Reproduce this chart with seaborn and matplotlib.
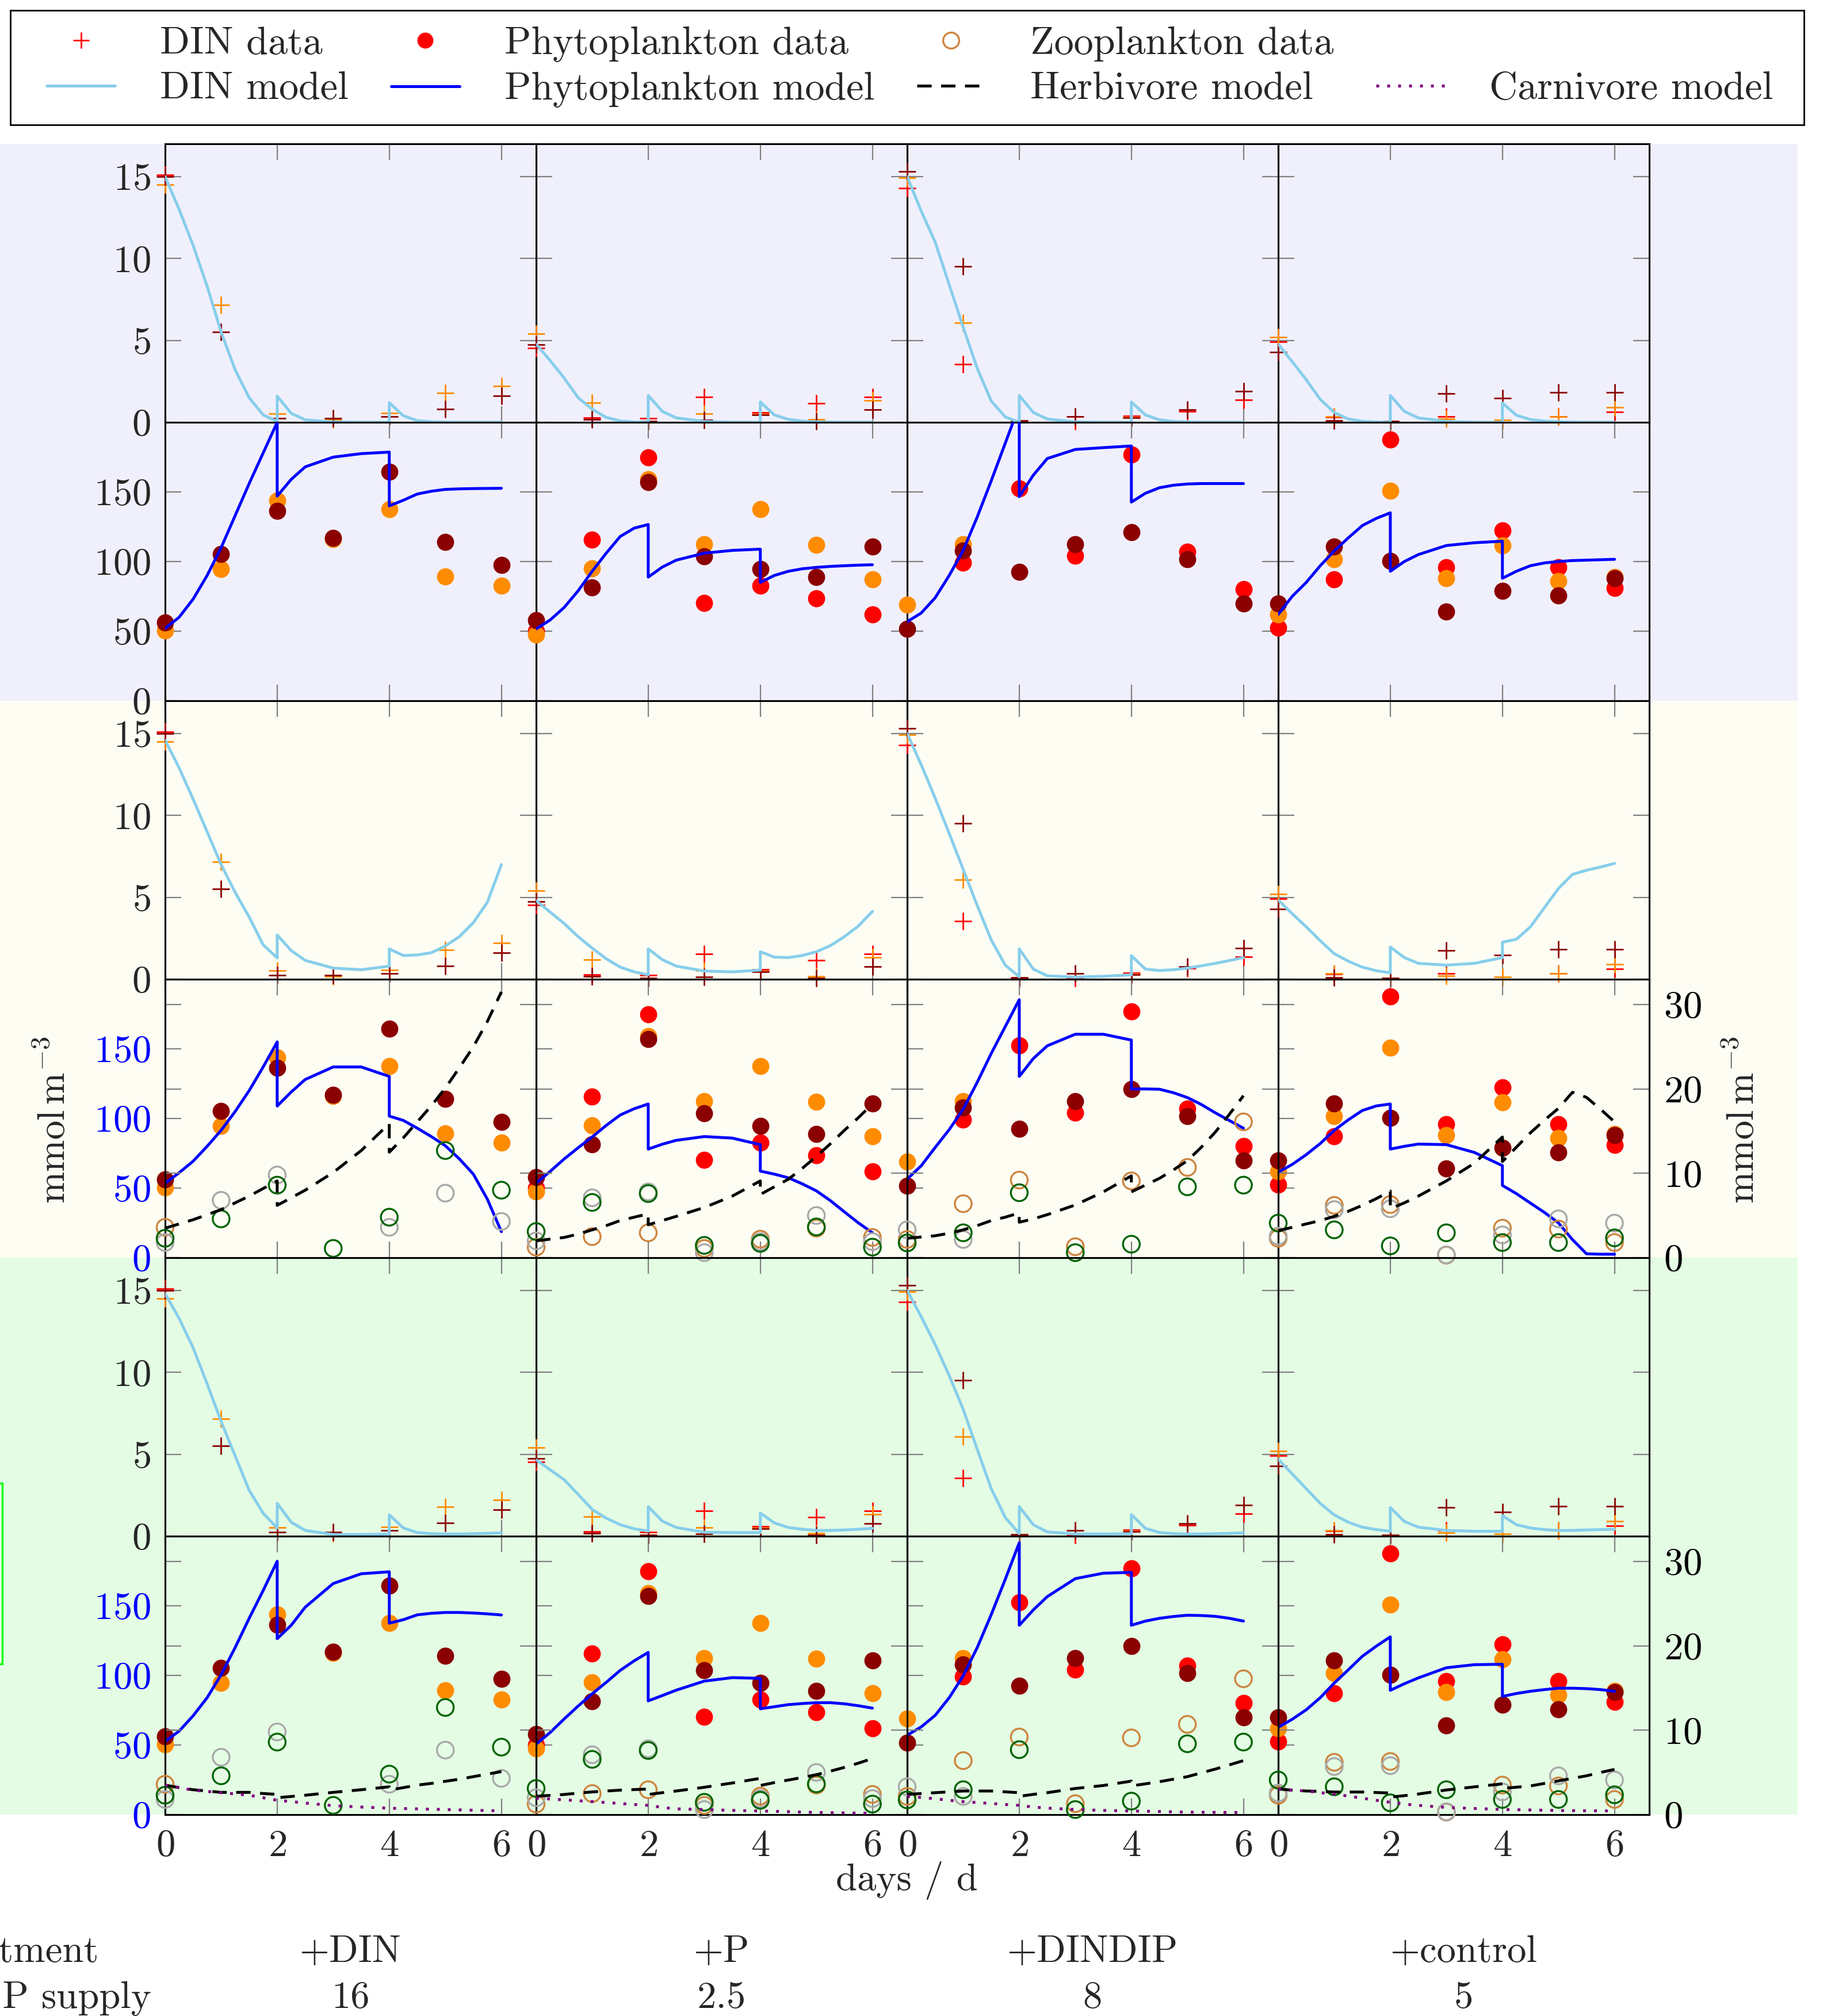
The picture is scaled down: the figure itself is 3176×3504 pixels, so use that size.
#!/usr/bin/env python
# coding: utf-8

# NP / NPZ / NPZZ model runs against the mesocosm data, 4 treatments

import numpy as np
import matplotlib
matplotlib.use('Agg')
import matplotlib.pyplot as plt
from matplotlib.lines import Line2D
from matplotlib.patches import Rectangle
import seaborn as sns

nan = np.nan

# Step 1: values
days = [0, 1, 2, 3, 4, 5, 6]
treatments = ['+DIN', '+P', '+DINDIP', '+control']
np_supply = ['16', '2.5', '8', '5']

# model output times, day 2 and day 4 twice (nutrient additions)
t_model = [0, 0.25, 0.5, 0.75, 1, 1.25, 1.5, 1.75, 2, 2, 2.25, 2.5, 3, 3.5,
           4, 4, 4.25, 4.5, 4.75, 5, 5.25, 5.5, 5.75, 6]

# DIN data (three replicates), one list per treatment
din_red = [[15.1, nan, nan, nan, nan, nan, nan],
           [4.52, 0.29, 0.25, 1.55, 0.61, 1.16, 1.55],
           [14.31, 3.54, 0.06, 0.06, 0.37, 0.67, 1.36],
           [4.9, 0.3, nan, 0.34, nan, 0.35, 0.64]]
din_orange = [[14.5, 7.15, 0.53, 0.18, 0.57, 1.8, 2.2],
              [5.41, 1.2, nan, 0.53, 0.5, 0.18, 1.35],
              [14.94, 6.08, 0.04, nan, 0.33, nan, nan],
              [5.21, 0.35, 0.08, 0.21, 0.15, 0.35, 0.93]]
din_darkred = [[15.0, 5.5, 0.23, 0.23, 0.34, 0.81, 1.6],
               [4.75, 0.19, 0.06, 0.15, 0.45, 0.07, 0.76],
               [15.32, 9.53, 0.09, 0.35, 0.29, 0.79, 1.89],
               [4.29, 0.09, 0.08, 1.75, 1.48, 1.82, 1.84]]

# phytoplankton data
phy_red = [[nan, nan, nan, nan, nan, nan, nan],
           [50, 115.9, 174.7, 70.3, 82.8, 73.7, 62],
           [nan, 99, 152.6, 104.2, 177, 107, 80.2],
           [52.3, 87.2, 187.8, 95.8, 122.4, 95.8, 81]]
phy_orange = [[50.3, 94.7, 143.7, 116, 137.8, 89.4, 82.5],
              [47.7, 95, 159, 112.2, 137.5, 112, 87.2],
              [69, 112.3, nan, nan, nan, nan, nan],
              [62, 101.8, 151, 88, 111.5, 86, 89]]
phy_darkred = [[56.1, 105.3, 136.2, 116.9, 164.3, 114, 97.4],
               [58, 81.5, 157, 103.6, 94.5, 88.8, 110.7],
               [51.6, 107.9, 92.7, 112.2, 121.2, 101.5, 69.7],
               [69.8, 110.7, 100.5, 64, 78.9, 75.5, 88]]

# zooplankton data (right axis)
zoo_peru = [[3.6, nan, nan, nan, nan, nan, nan],
            [1.25, 2.5, 2.95, 1.1, 2.2, 3.5, 2.4],
            [2.16, 6.4, 9.2, 1.3, 9.1, 10.7, 16.1],
            [2.3, 6.2, 6.3, 0.3, 3.5, 3.4, 1.8]]
zoo_gray = [[1.8, 6.8, 9.8, nan, 3.6, 7.65, 4.3],
            [2.0, 7.1, 7.8, 0.6, 1.9, 5.0, 1.9],
            [3.3, 2.16, nan, nan, nan, nan, nan],
            [2.56, 5.7, 5.8, 0.34, 2.7, 4.6, 4.1]]
zoo_green = [[2.3, 4.6, 8.6, 1.1, 4.8, 12.7, 8.0],
             [3.1, 6.55, 7.6, 1.46, 1.7, 3.65, 1.25],
             [1.75, 2.95, 7.7, 0.6, 1.6, 8.4, 8.6],
             [4.1, 3.3, 1.4, 2.95, 1.8, 1.8, 2.35]]

# DIN model, one list per treatment
din_np = [[15.0, 13.0, 10.8, 8.3, 5.5, 3.2, 1.5, 0.45, 0.05, 1.6, 0.55, 0.15, 0.02, 0.0, 0.0, 1.2, 0.4, 0.1, 0.03, 0.01, 0.0, 0.0, 0.0, 0.0],
          [4.77, 3.77, 2.7, 1.5, 0.8, 0.3, 0.08, 0.02, 0.0, 1.64, 0.67, 0.27, 0.05, 0.0, 0.0, 1.24, 0.45, 0.18, 0.07, 0.03, 0.01, 0.0, 0.0, 0.0],
          [15.0, 12.9, 11.0, 8.4, 5.8, 3.3, 1.3, 0.33, 0.0, 1.64, 0.6, 0.2, 0.02, 0.0, 0.0, 1.24, 0.45, 0.15, 0.05, 0.02, 0.0, 0.0, 0.0, 0.0],
          [4.77, 3.7, 2.6, 1.4, 0.6, 0.2, 0.06, 0.02, 0.0, 1.64, 0.67, 0.27, 0.05, 0.0, 0.0, 1.18, 0.43, 0.17, 0.07, 0.03, 0.01, 0.0, 0.0, 0.0]]
din_npz = [[14.6, 12.9, 11.0, 9.0, 7.0, 5.3, 3.8, 2.1, 1.3, 2.7, 1.75, 1.15, 0.68, 0.58, 0.8, 1.85, 1.45, 1.48, 1.62, 2.03, 2.6, 3.45, 4.7, 7.0],
           [4.8, 4.1, 3.4, 2.6, 1.9, 1.25, 0.74, 0.45, 0.27, 1.85, 1.2, 0.8, 0.5, 0.45, 0.56, 1.68, 1.35, 1.32, 1.45, 1.68, 2.05, 2.6, 3.25, 4.14],
           [15.0, 13.1, 11.05, 8.9, 6.7, 4.5, 2.4, 0.86, 0.15, 1.85, 0.62, 0.21, 0.13, 0.18, 0.27, 1.44, 0.62, 0.53, 0.58, 0.68, 0.82, 0.97, 1.14, 1.32],
           [4.84, 4.0, 3.2, 2.35, 1.56, 1.1, 0.74, 0.52, 0.39, 1.97, 1.32, 0.97, 0.86, 0.97, 1.32, 2.26, 2.44, 3.2, 4.37, 5.54, 6.4, 6.65, 6.85, 7.07]]
din_npzz = [[14.8, 13.3, 11.5, 9.3, 7.0, 4.9, 2.8, 1.4, 0.5, 2.0, 0.85, 0.35, 0.1, 0.1, 0.12, 1.3, 0.5, 0.22, 0.15, 0.13, 0.13, 0.15, 0.17, 0.2],
            [4.66, 4.05, 3.45, 2.55, 1.63, 1.1, 0.7, 0.45, 0.31, 1.8, 0.92, 0.53, 0.24, 0.22, 0.22, 1.41, 0.81, 0.53, 0.42, 0.35, 0.35, 0.38, 0.42, 0.48],
            [15.0, 13.4, 11.7, 9.8, 7.74, 5.3, 2.9, 1.14, 0.15, 1.8, 0.7, 0.26, 0.13, 0.13, 0.15, 1.32, 0.48, 0.22, 0.15, 0.13, 0.13, 0.15, 0.17, 0.2],
            [4.7, 3.8, 2.9, 2.0, 1.3, 0.85, 0.55, 0.4, 0.3, 1.75, 0.9, 0.55, 0.35, 0.3, 0.3, 1.25, 0.7, 0.5, 0.4, 0.35, 0.35, 0.38, 0.4, 0.42]]

# phytoplankton model
phy_np = [[52, 60, 73, 90, 110, 133, 156, 178, 200, 147, 159, 168, 175, 177.5, 178.6, 140, 144, 148.5, 150.5, 151.8, 152.2, 152.4, 152.5, 152.6],
          [51.6, 58, 67, 79, 93, 106, 118, 124, 126.6, 88.8, 96, 101, 106, 108, 108.9, 85, 90, 93, 94.8, 95.8, 96.5, 97, 97.4, 97.7],
          [56.8, 63, 74, 90, 108, 132, 158, 185, 212, 146.6, 162, 174, 180.5, 181.8, 183, 142.7, 149, 153, 154.8, 155.7, 156, 156, 156, 156],
          [62, 75, 85, 97, 107.6, 117, 125.8, 131, 135, 93, 100, 105, 111.5, 113.5, 114.6, 88, 93, 97, 99, 100, 100.7, 101, 101.3, 101.6]]
phy_npz = [[53.5, 61, 69.3, 80, 91.5, 105, 120, 137, 155, 108.9, 119, 128, 137, 137, 130.2, 101.7, 98.6, 93, 87, 80.4, 71, 60, 42, 18.7],
           [53.5, 62, 70.9, 79, 86.7, 95, 102.5, 107, 110.4, 78, 81.5, 84.3, 87, 85.9, 81.2, 62.2, 60, 57.4, 53, 48, 41, 32.9, 25, 17.9],
           [56.5, 66, 79.2, 92, 106.7, 126, 146.7, 166, 185.3, 130.2, 143, 152.2, 160.5, 160.5, 156.3, 121.2, 121.2, 121, 118.5, 115, 110, 104, 98.5, 93],
           [61.4, 67, 74, 82, 91.5, 99, 105.7, 109, 110.4, 78, 80, 81.6, 81.2, 75.6, 66.1, 51.9, 46, 39.2, 32.5, 25, 13, 2.8, 2.5, 2.5]]
phy_npzz = [[52.6, 60, 71, 84, 100.5, 120, 141, 161, 182, 126.4, 136, 149, 166, 173, 174.4, 137.5, 140, 143.5, 144.6, 145.2, 145.2, 144.8, 144.2, 143.4],
            [50.6, 59, 68.7, 78, 86.8, 95, 103.6, 110.5, 116.5, 81.7, 85.5, 89.4, 95.9, 98.4, 97.9, 76, 77.5, 79, 79.8, 80.4, 80.4, 79.6, 78.2, 76.5],
            [57.1, 63, 71.3, 84, 99.7, 120, 143.7, 169, 195.3, 136, 147, 156.6, 169.5, 173.4, 174, 136, 139, 141, 142.3, 143.2, 143, 142.4, 141, 139],
            [62.7, 68.5, 75.3, 84, 94.5, 104, 113.7, 121, 127.7, 89.3, 94, 98.2, 105.5, 107.7, 108, 84.9, 87, 88.6, 89.8, 90.8, 90.8, 90.5, 89.8, 88.6]]

# herbivore model (right axis)
herb_npz = [[3.5, 4.0, 4.5, 5.1, 5.7, 6.5, 7.3, 8.2, 9.1, 6.2, 7.1, 8.0, 10.1, 12.7, 15.9, 12.5, 14.2, 16.1, 18.0, 20.1, 22.5, 25.0, 28.0, 31.5],
            [2.0, 2.2, 2.4, 2.8, 3.3, 3.8, 4.4, 4.8, 5.2, 3.9, 4.4, 4.9, 5.95, 7.3, 9.1, 7.5, 8.4, 9.3, 10.6, 12.0, 13.5, 15.1, 16.6, 18.2],
            [2.3, 2.45, 2.6, 2.9, 3.3, 3.8, 4.4, 4.8, 5.3, 4.2, 4.6, 5.1, 6.25, 7.8, 9.7, 7.8, 8.6, 9.4, 10.4, 11.5, 13.1, 14.9, 17.0, 19.2],
            [3.2, 3.6, 4.0, 4.4, 4.9, 5.5, 6.2, 7.0, 7.9, 5.8, 6.5, 7.3, 9.1, 11.2, 14.3, 11.4, 13.1, 14.8, 16.3, 17.7, 19.6, 19.0, 17.6, 16.1]]
herb_npzz = [[3.5, 3.2, 2.95, 2.8, 2.64, 2.64, 2.64, 2.5, 2.4, 2.0, 2.15, 2.3, 2.64, 2.95, 3.3, 2.9, 3.2, 3.5, 3.7, 3.95, 4.2, 4.5, 4.8, 5.1],
             [2.17, 2.28, 2.39, 2.55, 2.69, 2.8, 2.9, 2.97, 3.03, 2.39, 2.6, 2.8, 3.24, 3.75, 4.3, 3.45, 3.8, 4.1, 4.4, 4.73, 5.15, 5.6, 6.1, 6.65],
             [2.39, 2.5, 2.6, 2.7, 2.8, 2.8, 2.8, 2.7, 2.6, 2.17, 2.4, 2.6, 3.1, 3.45, 3.97, 3.4, 3.65, 3.9, 4.2, 4.5, 4.95, 5.4, 5.9, 6.4],
             [3.04, 2.9, 2.8, 2.75, 2.68, 2.68, 2.68, 2.62, 2.56, 2.07, 2.25, 2.44, 2.92, 3.29, 3.65, 3.1, 3.25, 3.4, 3.7, 4.0, 4.3, 4.6, 5.0, 5.36]]

# carnivore model (right axis, NPZZ only)
carn_npzz = [[3.5, 3.2, 2.9, 2.75, 2.6, 2.45, 2.3, 2.0, 1.7, 1.7, 1.55, 1.37, 1.06, 0.9, 0.76, 0.76, 0.72, 0.68, 0.64, 0.6, 0.56, 0.52, 0.48, 0.45],
             [1.96, 1.85, 1.75, 1.65, 1.54, 1.43, 1.32, 1.2, 1.1, 1.1, 0.85, 0.68, 0.6, 0.5, 0.43, 0.43, 0.39, 0.35, 0.3, 0.26, 0.23, 0.2, 0.18, 0.17],
             [2.17, 2.03, 1.88, 1.7, 1.54, 1.43, 1.32, 1.2, 1.1, 1.1, 0.9, 0.77, 0.6, 0.5, 0.43, 0.43, 0.4, 0.37, 0.33, 0.3, 0.28, 0.27, 0.26, 0.26],
             [3.04, 2.9, 2.8, 2.6, 2.44, 2.2, 1.95, 1.7, 1.46, 1.46, 1.25, 1.1, 0.85, 0.73, 0.61, 0.61, 0.58, 0.55, 0.52, 0.49, 0.47, 0.46, 0.45, 0.44]]

din_models = [din_np, din_npz, din_npzz]
phy_models = [phy_np, phy_npz, phy_npzz]
herb_models = [None, herb_npz, herb_npzz]
carn_models = [None, None, carn_npzz]

rep_cols = ['red', 'darkorange', 'darkred']
zoo_cols = ['peru', 'darkgray', 'darkgreen']
band_cols = ['#f0f0fc', '#fdfdf4', '#e4fce4']

# Step 2: style
sns.set_theme(style='white')
plt.rcParams['font.family'] = ['cmr10', 'DejaVu Serif']
plt.rcParams['mathtext.fontset'] = 'cm'
plt.rcParams['axes.formatter.use_mathtext'] = True
plt.rcParams['axes.edgecolor'] = 'black'
plt.rcParams['axes.linewidth'] = 1.1
plt.rcParams['axes.unicode_minus'] = False

W, H, DPI = 3176, 3504, 200
FS = 24
fig = plt.figure(figsize=(W / DPI, H / DPI), dpi=DPI)
fig.patch.set_facecolor('white')
gs = fig.add_gridspec(6, 4, left=287 / W, right=2867 / W, top=1 - 250 / H,
                      bottom=1 - 3154 / H, hspace=0, wspace=0)

tick_kw = dict(direction='in', length=10, width=0.8, color='#808080',
               labelsize=FS, pad=9)
dash_herb = (0, (5, 3.3))
dot_carn = (0, (1, 2.8))


def style_axes(ax, r, c):
    ax.set_facecolor('none')
    ax.set_xlim(0, 6.62)
    ax.set_xticks([0, 2, 4, 6])
    ax.set_xlabel('')
    ax.set_ylabel('')
    ax.tick_params(axis='both', top=True, bottom=True, left=True, right=True,
                   labelbottom=(r == 5), labelleft=(c == 0), labelright=False,
                   **tick_kw)


# Step 3: draw the 6 x 4 panels
for band in range(3):
    for c in range(4):
        r_n, r_p = 2 * band, 2 * band + 1

        # DIN panel
        ax_n = fig.add_subplot(gs[r_n, c])
        for vals, col in zip([din_red[c], din_orange[c], din_darkred[c]], rep_cols):
            sns.scatterplot(x=days, y=vals, ax=ax_n, marker='+', color=col,
                            s=110, linewidth=1.0, clip_on=False, zorder=3)
        sns.lineplot(x=t_model, y=din_models[band][c], ax=ax_n, color='skyblue',
                     linewidth=1.8, sort=False, estimator=None, zorder=4)
        style_axes(ax_n, r_n, c)
        ax_n.set_ylim(0, 17)
        ax_n.set_yticks([0, 5, 10, 15])

        # phytoplankton panel
        ax_p = fig.add_subplot(gs[r_p, c])
        for vals, col in zip([phy_red[c], phy_orange[c], phy_darkred[c]], rep_cols):
            sns.scatterplot(x=days, y=vals, ax=ax_p, marker='o', color=col,
                            edgecolor=col, s=115, linewidth=0, clip_on=False, zorder=3)
        sns.lineplot(x=t_model, y=phy_models[band][c], ax=ax_p, color='blue',
                     linewidth=1.8, sort=False, estimator=None, zorder=4)
        style_axes(ax_p, r_p, c)
        ax_p.set_ylim(0, 200)
        ax_p.set_yticks([0, 50, 100, 150])
        if band > 0:
            ax_p.tick_params(axis='y', labelcolor='blue')

            tw = ax_p.twinx()
            for vals, col in zip([zoo_peru[c], zoo_gray[c], zoo_green[c]], zoo_cols):
                sns.scatterplot(x=days, y=vals, ax=tw, marker='o', color=col,
                                facecolor='none', edgecolor=col, s=110,
                                linewidth=1.2, clip_on=False, zorder=3)
            sns.lineplot(x=t_model, y=herb_models[band][c], ax=tw, color='black',
                         linewidth=1.8, linestyle=dash_herb, sort=False,
                         estimator=None, zorder=4)
            if carn_models[band] is not None:
                sns.lineplot(x=t_model, y=carn_models[band][c], ax=tw, color='purple',
                             linewidth=1.8, linestyle=dot_carn, sort=False,
                             estimator=None, zorder=4)
            tw.set_ylim(0, 33)
            tw.set_yticks([0, 10, 20, 30])
            tw.set_ylabel('')
            tw.tick_params(axis='y', left=True, right=True, labelleft=False,
                           labelright=(c == 3), labelcolor='black', **tick_kw)

# coloured bands behind each model setup
for band in range(3):
    y_top = 1 - (250 + band * 968) / H
    y_bot = 1 - (250 + (band + 1) * 968) / H
    fig.patches.append(Rectangle((0, y_bot), 3125 / W, y_top - y_bot,
                                 transform=fig.transFigure, facecolor=band_cols[band],
                                 edgecolor='none', zorder=-1))
fig.patches.append(Rectangle((-0.02, 1 - 2892 / H), 0.02 + 4 / W, 314 / H,
                             transform=fig.transFigure, fill=False,
                             edgecolor='#00ff00', linewidth=1.2, zorder=5))

# axis labels and treatment table
fig.text(95 / W, 1 - 1947 / H, r'mmol$\,$m$^{-3}$', rotation=90, ha='center',
         va='center', fontsize=FS)
fig.text(3031 / W, 1 - 1947 / H, r'mmol$\,$m$^{-3}$', rotation=90, ha='center',
         va='center', fontsize=FS)
fig.text(1576 / W, 1 - 3285 / H, 'days / d', ha='center', va='baseline', fontsize=FS)
fig.text(172 / W, 1 - 3410 / H, 'Treatment', ha='right', va='baseline', fontsize=FS)
fig.text(263 / W, 1 - 3490 / H, 'N:P supply', ha='right', va='baseline', fontsize=FS)
for c in range(4):
    xc = (287 + 645 * c + 322) / W
    fig.text(xc, 1 - 3410 / H, treatments[c], ha='center', va='baseline', fontsize=FS)
    fig.text(xc, 1 - 3490 / H, np_supply[c], ha='center', va='baseline', fontsize=FS)

# legend: frame drawn separately so the entries can sit where they should
handles = [
    Line2D([], [], ls='none', marker='+', color='red', ms=10, mew=1.0),
    Line2D([], [], color='skyblue', lw=1.8),
    Line2D([], [], ls='none', marker='o', color='red', ms=10, mew=0),
    Line2D([], [], color='blue', lw=1.8),
    Line2D([], [], ls='none', marker='o', mfc='none', mec='peru', ms=10, mew=1.2),
    Line2D([], [], color='black', lw=1.8, ls=dash_herb),
    Line2D([], [], ls='none', alpha=0),
    Line2D([], [], color='purple', lw=1.8, ls=dot_carn),
]
labels = ['DIN data', 'DIN model', 'Phytoplankton data', 'Phytoplankton model',
          'Zooplankton data', 'Herbivore model', ' ', 'Carnivore model']
fig.legend(handles, labels, ncol=4, loc='upper left',
           bbox_to_anchor=(81 / W, 1 - 46 / H), borderaxespad=0, borderpad=0,
           frameon=False, fontsize=24.5, handlelength=1.75, handletextpad=1.15,
           columnspacing=1.08, labelspacing=0.25)
fig.patches.append(Rectangle((18 / W, 1 - 217 / H), (3136 - 18) / W, 199 / H,
                             transform=fig.transFigure, fill=False,
                             edgecolor='black', linewidth=1.0, zorder=5))

fig.savefig('out.png', dpi=DPI)
